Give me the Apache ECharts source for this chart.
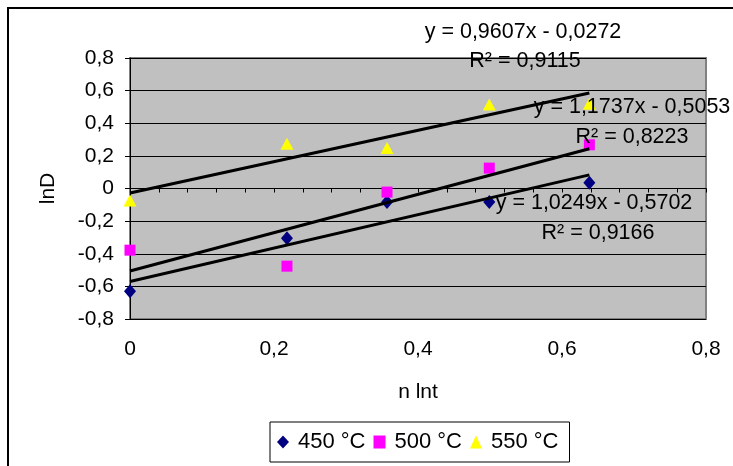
<!DOCTYPE html>
<html>
<head>
<meta charset="utf-8">
<script src="https://cdn.jsdelivr.net/npm/echarts@6/dist/echarts.min.js"></script>
<style>
  html, body { margin: 0; padding: 0; background: #fff; }
  #chart { width: 733px; height: 466px; }
</style>
</head>
<body>
<div id="chart"></div>
<script>
// n·ln t values shared by all three temperature series
const xValues = [0, 0.218, 0.357, 0.499, 0.638];

// ln D for each annealing temperature
const series450 = [-0.63, -0.305, -0.083, -0.082, 0.035];
const series500 = [-0.378, -0.476, -0.022, 0.125, 0.268];
const series550 = [-0.073, 0.274, 0.248, 0.515, 0.52];

const seriesNames = ['450 °C', '500 °C', '550 °C'];

// linear trendlines: y = slope·x + intercept, with R²
const slopes = [1.0249, 1.1737, 0.9607];
const intercepts = [-0.5702, -0.5053, -0.0272];
const rSquared = [0.9166, 0.8223, 0.9115];

// axis ranges and tick steps
const xMin = 0, xMax = 0.8, xStep = 0.2, xMinorStep = 0.04;
const yMin = -0.8, yMax = 0.8, yStep = 0.2;

const FONT = '"Liberation Sans", Arial, sans-serif';

function comma(v, digits) {
  if (Math.abs(v) < 1e-9) return '0';
  return v.toFixed(digits).replace('.', ',');
}

const pointSets = [series450, series500, series550];
const colors = ['#000080', '#FF00FF', '#FFFF00'];
const symbols = ['diamond', 'rect', 'triangle'];
const symbolSizes = [[12, 14], [11, 11], [13, 12]];

const scatterSeries = pointSets.map((ys, i) => ({
  name: seriesNames[i],
  type: 'scatter',
  data: xValues.map((x, j) => [x, ys[j]]),
  symbol: symbols[i],
  symbolSize: symbolSizes[i],
  itemStyle: { color: colors[i], opacity: 1 },
  z: 2 + i
}));

const xEnd = Math.max(...xValues);
const trendSeries = slopes.map((m, i) => ({
  name: 'trend ' + seriesNames[i],
  type: 'line',
  data: [[0, intercepts[i]], [xEnd, m * xEnd + intercepts[i]]],
  symbol: 'none',
  silent: true,
  lineStyle: { color: '#000', width: 3 },
  z: 10
}));

function equation(i) {
  const b = intercepts[i];
  return 'y = ' + comma(slopes[i], 4) + 'x ' + (b < 0 ? '- ' : '+ ') + comma(Math.abs(b), 4);
}
function r2(i) {
  return 'R² = ' + comma(rSquared[i], 4);
}

// label anchor points (centres) for the trendline equations
const eqPlaces = [
  { eq: [594, 203], r: [598, 233] },
  { eq: [632, 107], r: [632, 137] },
  { eq: [523, 32], r: [525, 61] }
];
const eqTexts = [];
eqPlaces.forEach((p, i) => {
  eqTexts.push({
    type: 'text', x: p.eq[0], y: p.eq[1], z: 100,
    style: { text: equation(i), font: '21.5px ' + FONT, fill: '#000', align: 'center', verticalAlign: 'middle' }
  });
  eqTexts.push({
    type: 'text', x: p.r[0], y: p.r[1], z: 100,
    style: { text: r2(i), font: '21.5px ' + FONT, fill: '#000', align: 'center', verticalAlign: 'middle' }
  });
});

const chart = echarts.init(document.getElementById('chart'), null, { renderer: 'canvas' });

chart.setOption({
  backgroundColor: '#fff',
  animation: false,
  textStyle: { fontFamily: FONT },
  grid: {
    left: 130, top: 58, width: 576, height: 261,
    show: true, backgroundColor: '#C0C0C0', borderColor: '#808080', borderWidth: 2
  },
  legend: {
    data: seriesNames.map((n, i) => ({ name: n, icon: symbols[i] })),
    left: 270, top: 422,
    orient: 'horizontal',
    itemWidth: 12, itemHeight: 13, itemGap: 8,
    padding: [9, 11, 9, 7],
    borderColor: '#000', borderWidth: 1,
    textStyle: { fontSize: 22, fontFamily: FONT, color: '#000', padding: [0, 0, 0, 4] },
    selectedMode: false
  },
  xAxis: [
    {
      type: 'value', min: xMin, max: xMax, interval: xStep,
      position: 'bottom',
      name: 'n lnt', nameLocation: 'middle', nameGap: 63,
      nameTextStyle: { fontSize: 21, color: '#000', fontFamily: FONT },
      axisLine: { show: false, onZero: false },
      axisTick: { show: false },
      splitLine: { show: false },
      axisLabel: { fontSize: 21, color: '#000', margin: 20, fontFamily: FONT, formatter: v => comma(v, 1) }
    },
    {
      type: 'value', min: xMin, max: xMax, interval: xMinorStep,
      position: 'top',
      axisLine: { show: true, onZero: true, lineStyle: { color: '#000', width: 1 } },
      axisTick: { show: true, inside: true, length: 4, lineStyle: { color: '#000', width: 1 } },
      axisLabel: { show: false },
      splitLine: { show: false }
    }
  ],
  yAxis: {
    type: 'value', min: yMin, max: yMax, interval: yStep,
    name: 'lnD', nameLocation: 'middle', nameGap: 71,
    nameTextStyle: { fontSize: 21, color: '#000', fontFamily: FONT },
    axisLine: { show: true, onZero: false, lineStyle: { color: '#000', width: 1 } },
    axisTick: { show: true, length: 5, lineStyle: { color: '#000', width: 1 } },
    splitLine: { show: true, lineStyle: { color: '#000', width: 1 } },
    axisLabel: { fontSize: 21, color: '#000', margin: 16, fontFamily: FONT, formatter: v => comma(v, 1) }
  },
  series: scatterSeries.concat(trendSeries),
  graphic: [
    {
      type: 'rect', z: 100, silent: true,
      shape: { x: 8, y: 8, width: 760, height: 500 },
      style: { fill: 'none', stroke: '#000', lineWidth: 2 }
    }
  ].concat(eqTexts)
});
</script>
</body>
</html>
